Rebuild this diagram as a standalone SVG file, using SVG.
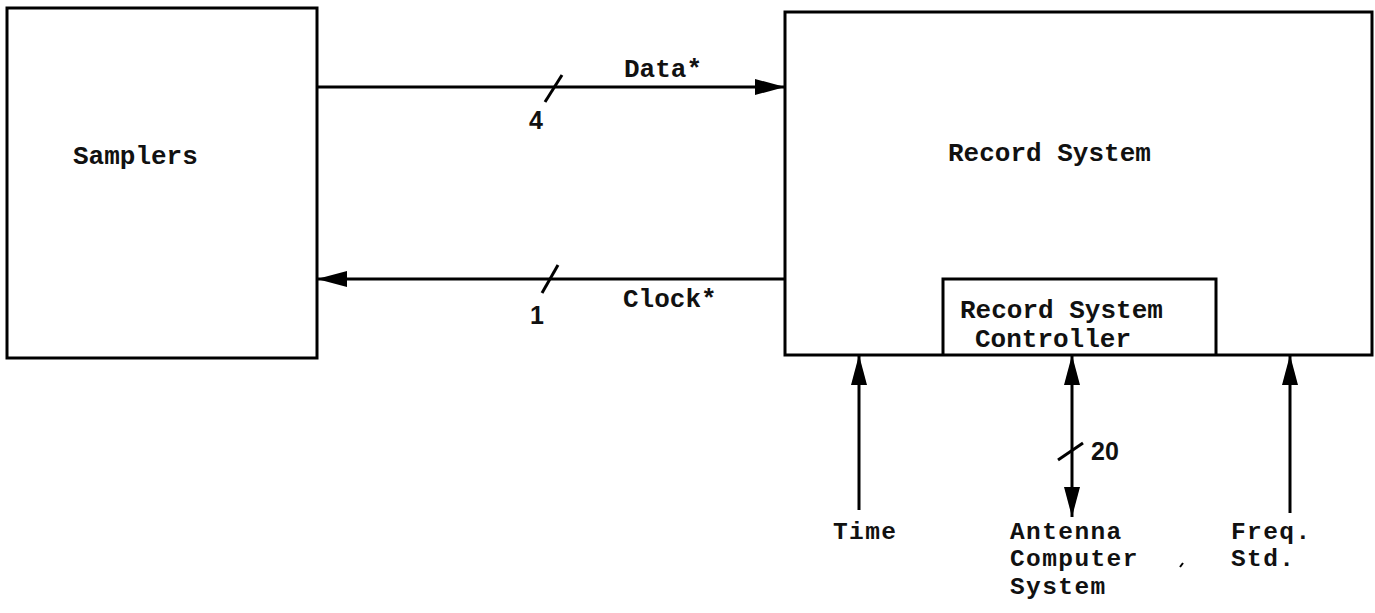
<svg xmlns="http://www.w3.org/2000/svg" width="1375" height="613" viewBox="0 0 1375 613">
<style>
.box{fill:none;stroke:#000;stroke-width:3}
.ln{fill:none;stroke:#000;stroke-width:3}
.t{font-family:"Liberation Mono","DejaVu Sans Mono",monospace;font-size:26px;font-weight:bold;fill:#111}
.s{font-size:24.5px;letter-spacing:1.4px}
.n{font-family:"Liberation Sans","DejaVu Sans",sans-serif;font-size:25px;font-weight:bold;fill:#111}
</style>
<defs>
<marker id="ah" viewBox="0 0 30 16" refX="30" refY="8" markerWidth="30" markerHeight="16" markerUnits="userSpaceOnUse" orient="auto-start-reverse">
<path d="M0,0 L30,8 L0,16 Z" fill="#000"/>
</marker>
</defs>
<g id="samplers">
<rect class="box" x="7" y="8" width="310" height="350"/>
<text class="t" x="73" y="164">Samplers</text>
</g>
<g id="record-system">
<rect class="box" x="785" y="12" width="587" height="343"/>
<text class="t" x="948" y="161">Record System</text>
</g>
<g id="controller">
<path class="box" d="M943,355 L943,279 L1216,279 L1216,355"/>
<text class="t" x="960" y="318">Record System</text>
<text class="t" x="975" y="347">Controller</text>
</g>
<g id="time">
<text class="t s" x="833" y="539">Time</text>
</g>
<g id="antenna">
<text class="t s" x="1010" y="539">Antenna</text>
<text class="t s" x="1010" y="566">Computer</text>
<text class="t s" x="1010" y="594">System</text>
</g>
<g id="freq">
<text class="t s" x="1231" y="539">Freq.</text>
<text class="t s" x="1231" y="566">Std.</text>
</g>
<g id="connectors">
<line class="ln" x1="317" y1="87" x2="785" y2="87" marker-end="url(#ah)"/>
<line class="ln" x1="545" y1="102" x2="562" y2="75"/>
<text class="t" x="624" y="77">Data*</text>
<text class="n" x="529" y="129">4</text>
<line class="ln" x1="785" y1="279" x2="317" y2="279" marker-end="url(#ah)"/>
<line class="ln" x1="542" y1="293" x2="558" y2="265"/>
<text class="t" x="623" y="307">Clock*</text>
<text class="n" x="530" y="324">1</text>
<line class="ln" x1="859" y1="510" x2="859" y2="355" marker-end="url(#ah)"/>
<line class="ln" x1="1072" y1="517" x2="1072" y2="355" marker-start="url(#ah)" marker-end="url(#ah)"/>
<line class="ln" x1="1058" y1="460" x2="1083" y2="443"/>
<text class="n" x="1091" y="460">20</text>
<line class="ln" x1="1290" y1="513" x2="1290" y2="355" marker-end="url(#ah)"/>
<line x1="1180" y1="567" x2="1183" y2="563" stroke="#000" stroke-width="2"/>
</g>
</svg>
